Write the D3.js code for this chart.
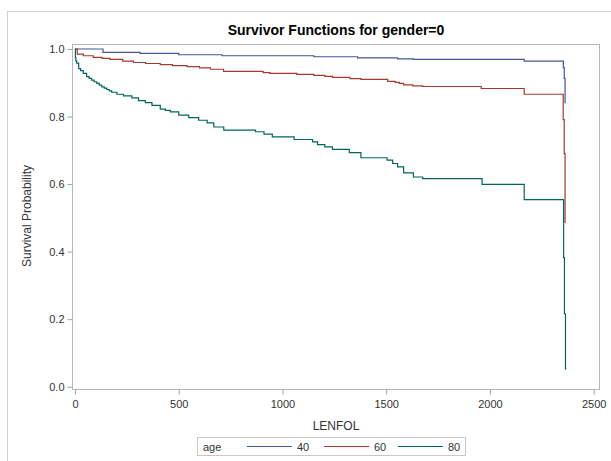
<!DOCTYPE html>
<html>
<head>
<meta charset="utf-8">
<script src="https://cdn.jsdelivr.net/npm/d3@7/dist/d3.min.js"></script>
<style>
  html, body { margin: 0; padding: 0; background: #fff; }
  svg { display: block; font-family: "Liberation Sans", Arial, sans-serif; }
</style>
</head>
<body>
<svg id="chart" width="611" height="461"></svg>
<script>
// Kaplan-Meier survivor estimates (LENFOL in days) by age group, gender = 0
const groups = ["40", "60", "80"];
const colors = ["#445694", "#A23A2E", "#01665E"];

const age40Time = [0, 135, 314, 500, 709, 1151, 1362, 1555, 1630, 2165, 2354, 2358, 2362];
const age40Surv = [1.0, 0.990, 0.987, 0.983, 0.980, 0.977, 0.974, 0.971, 0.969, 0.964, 0.945, 0.913, 0.839];

const age60Time = [0, 11, 40, 88, 130, 169, 230, 282, 340, 411, 470, 540, 600, 653, 716,
  907, 940, 1069, 1151, 1204, 1241, 1325, 1378, 1507, 1543, 1563, 1584, 1628, 1676,
  1958, 2165, 2353, 2358, 2362];
const age60Surv = [1.0, 0.985, 0.980, 0.975, 0.972, 0.969, 0.964, 0.960, 0.957, 0.954, 0.951, 0.948, 0.944, 0.940, 0.934,
  0.930, 0.928, 0.925, 0.922, 0.919, 0.916, 0.912, 0.910, 0.904, 0.901, 0.898, 0.894, 0.891, 0.889,
  0.883, 0.866, 0.791, 0.690, 0.485];

const age80Time = [0, 2, 4, 8, 18, 27, 40, 56, 68, 80, 92, 105, 117, 129, 141, 153, 165, 177, 202, 234, 274,
  306, 339, 371, 411, 435, 459, 500, 548, 596, 637, 669, 717, 870, 911, 951, 1056, 1145,
  1169, 1204, 1241, 1322, 1378, 1504, 1531, 1555, 1584, 1631, 1676, 1962, 2165, 2355, 2359, 2364];
const age80Surv = [1.0, 0.975, 0.965, 0.958, 0.942, 0.936, 0.928, 0.918, 0.913, 0.908, 0.903, 0.898, 0.893, 0.888, 0.884, 0.880, 0.876, 0.872, 0.866, 0.861, 0.855,
  0.847, 0.841, 0.833, 0.822, 0.818, 0.814, 0.804, 0.797, 0.789, 0.781, 0.769, 0.760, 0.755, 0.748, 0.740, 0.732, 0.725,
  0.717, 0.710, 0.703, 0.693, 0.678, 0.671, 0.661, 0.651, 0.633, 0.621, 0.616, 0.599, 0.554, 0.382, 0.216, 0.050];

const xTicks = [0, 500, 1000, 1500, 2000, 2500];
const yTicks = [0.0, 0.2, 0.4, 0.6, 0.8, 1.0];

const series = [
  { key: groups[0], color: colors[0], t: age40Time, s: age40Surv },
  { key: groups[1], color: colors[1], t: age60Time, s: age60Surv },
  { key: groups[2], color: colors[2], t: age80Time, s: age80Surv }
];

const svg = d3.select("#chart");

// outer graph border
svg.append("rect")
  .attr("x", 7.5).attr("y", 11.5).attr("width", 612).attr("height", 460)
  .attr("fill", "none").attr("stroke", "#d0d0d0").attr("stroke-width", 1);

// plot wall
const wall = { left: 72.5, right: 599.5, top: 44.5, bottom: 389.5 };
const x = d3.scaleLinear().domain([0, 2500]).range([75, 593.7]);
const y = d3.scaleLinear().domain([0, 1]).range([386.7, 49]);

svg.append("text")
  .attr("x", 336).attr("y", 35)
  .attr("text-anchor", "middle")
  .attr("font-size", 14).attr("font-weight", "bold").attr("fill", "#000")
  .text("Survivor Functions for gender=0");

svg.append("rect")
  .attr("x", wall.left).attr("y", wall.top)
  .attr("width", wall.right - wall.left).attr("height", wall.bottom - wall.top)
  .attr("fill", "#fff").attr("stroke", "#b4b8bb").attr("stroke-width", 1);

// axes
const axisColor = "#9da2a6";
const xAxis = svg.append("g")
  .attr("transform", `translate(0,${wall.bottom})`)
  .call(d3.axisBottom(x).tickValues(xTicks).tickFormat(d3.format("d")).tickSize(5).tickSizeOuter(0));
xAxis.select(".domain").remove();
xAxis.selectAll(".tick line").attr("stroke", axisColor);
xAxis.selectAll(".tick text").attr("font-size", 11).attr("fill", "#333")
  .attr("font-family", "Liberation Sans, Arial, sans-serif").attr("dy", "0.95em");

const yAxis = svg.append("g")
  .attr("transform", `translate(${wall.left},0)`)
  .call(d3.axisLeft(y).tickValues(yTicks).tickFormat(d3.format(".1f")).tickSize(5).tickSizeOuter(0));
yAxis.select(".domain").remove();
yAxis.selectAll(".tick line").attr("stroke", axisColor);
yAxis.selectAll(".tick text").attr("font-size", 11).attr("fill", "#333")
  .attr("font-family", "Liberation Sans, Arial, sans-serif").attr("x", -8);

svg.append("text")
  .attr("x", 336).attr("y", 430)
  .attr("text-anchor", "middle").attr("font-size", 12).attr("fill", "#333")
  .text("LENFOL");

svg.append("text")
  .attr("transform", "translate(31,216) rotate(-90)")
  .attr("text-anchor", "middle").attr("font-size", 12).attr("fill", "#333")
  .text("Survival Probability");

// step curves
const line = d3.line().curve(d3.curveStepAfter);
series.forEach(sr => {
  const pts = sr.t.map((t, i) => [x(t), y(sr.s[i])]);
  svg.append("path")
    .attr("d", line(pts))
    .attr("fill", "none")
    .attr("stroke", sr.color)
    .attr("stroke-width", 1.2);
});

// legend
const leg = svg.append("g");
leg.append("rect")
  .attr("x", 197.5).attr("y", 437.5).attr("width", 268).attr("height", 18)
  .attr("fill", "#fff").attr("stroke", "#c8c8c8");
leg.append("text").attr("x", 203).attr("y", 450.5)
  .attr("font-size", 11).attr("fill", "#333").text("age");
const legX = [247, 324, 398];
series.forEach((sr, i) => {
  leg.append("line")
    .attr("x1", legX[i]).attr("x2", legX[i] + 45)
    .attr("y1", 446.5).attr("y2", 446.5)
    .attr("stroke", sr.color).attr("stroke-width", 1.2);
  leg.append("text").attr("x", legX[i] + 50).attr("y", 450.5)
    .attr("font-size", 11).attr("fill", "#333").text(sr.key);
});
</script>
</body>
</html>
